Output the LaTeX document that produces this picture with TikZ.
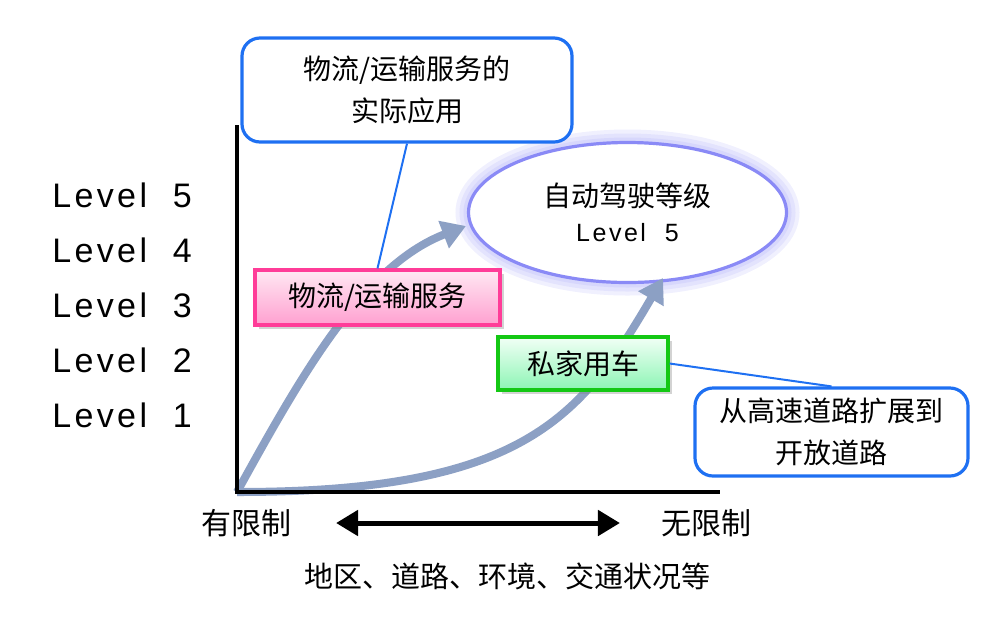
\documentclass[tikz,border=0pt]{standalone}
\usepackage{fontspec}
\setmainfont{Noto Sans CJK SC}
\newfontfamily\lvfont[LetterSpace=10]{Liberation Sans}
\usepackage{xcolor}
\usepackage{tikz}
\usetikzlibrary{arrows.meta,shapes.geometric,shadows}
\definecolor{mynoteblue}{RGB}{30,112,242}
\definecolor{mycurvegray}{RGB}{140,160,196}
\definecolor{mypinkline}{RGB}{255,60,152}
\definecolor{mypinktop}{RGB}{255,232,243}
\definecolor{mypinkbot}{RGB}{255,160,208}
\definecolor{mygreenline}{RGB}{20,200,20}
\definecolor{mygreentop}{RGB}{242,255,246}
\definecolor{mygreenbot}{RGB}{140,245,180}
\definecolor{mylavender}{RGB}{138,138,246}
\pgfkeys{tikz/mynote/.style={draw=mynoteblue,line width=1.6pt,rounded corners=9pt,fill=white,align=center,inner sep=0pt,font=\fontsize{14}{21}\selectfont}}
\pgfkeys{tikz/mybox/.style={line width=1.6pt,align=center,inner sep=0pt,font=\fontsize{14}{21}\selectfont,drop shadow={shadow xshift=2pt,shadow yshift=-2pt,opacity=0.35}}}
\pgfkeys{tikz/mycurve/.style={line width=4pt,draw=mycurvegray,-{Triangle[length=12pt,width=14pt]}}}
\pgfkeys{tikz/mylevel/.style={font=\lvfont\fontsize{17}{20}\selectfont}}
\pgfkeys{tikz/myaxis/.style={line width=2pt}}
\pgfkeys{tikz/mydouble/.style={line width=2.5pt,{Triangle[length=11pt,width=12.5pt]}-{Triangle[length=11pt,width=12.5pt]}}}
\newcommand\myglow[1]{
    \foreach \w in {13,9,5}
        \draw[mylavender,line width=\w pt,opacity=0.13] (#1.center) ellipse (79.5pt and 35pt);
}

\begin{document}
\begin{tikzpicture}[x=0.5pt,y=-0.5pt]
    \useasboundingbox (0,0) rectangle (1000,617);
    \foreach \i in {1,...,5}
        \node[mylevel] (lv\i) at (122,{195+55*(5-\i)}) {Level~ \i};
    \coordinate (o) at (237,492);
    \coordinate (ytop) at (237,125);
    \coordinate (xend) at (720,492);
    \coordinate (c1tip) at (466,226);
    \coordinate (c2tip) at (663,278);
    \node[ellipse,minimum width=159pt,minimum height=70pt] (lvl) at (627.5,212.5) {};
    \myglow{lvl}
    \node[ellipse,draw=mylavender,line width=1.6pt,fill=white,minimum width=159pt,minimum height=70pt,align=center,font=\fontsize{14}{17.5}\selectfont] at (lvl) {自动驾驶等级\\{\lvfont\fontsize{12.5}{15}\selectfont Level~ 5}};
    \draw[mycurve] (o) .. controls (300,378) and (362,266) .. (c1tip);
    \draw[mycurve] (o) .. controls (520,492) and (580,420) .. (c2tip);
    \draw[myaxis] (ytop) -- (o) -- (xend);
    \node[mynote,minimum width=165pt,minimum height=52pt] (apps) at (407,90) {物流/运输服务的\\实际应用};
    \node[mybox,draw=mypinkline,top color=mypinktop,bottom color=mypinkbot,minimum width=122.5pt,minimum height=27.5pt] (logi) at (377.5,297.5) {物流/运输服务};
    \node[mybox,draw=mygreenline,top color=mygreentop,bottom color=mygreenbot,minimum width=85pt,minimum height=26.5pt] (priv) at (583,363.5) {私家用车};
    \node[mynote,minimum width=136.5pt,minimum height=44pt] (road) at (831.5,432) {从高速道路扩展到\\开放道路};
    \draw[mynoteblue,line width=1pt] (apps.south) -- (logi.north);
    \draw[mynoteblue,line width=1pt] (priv.east) -- (road.north);
    \node[font=\fontsize{15}{18}\selectfont] (lim) at (246,523) {有限制};
    \node[font=\fontsize{15}{18}\selectfont] (unlim) at (706,523) {无限制};
    \draw[mydouble,shorten <=19pt,shorten >=17pt] (lim) -- (unlim);
    \node[font=\fontsize{14.5}{18}\selectfont] (cond) at (507,576) {地区、道路、环境、交通状况等};
\end{tikzpicture}
\end{document}
